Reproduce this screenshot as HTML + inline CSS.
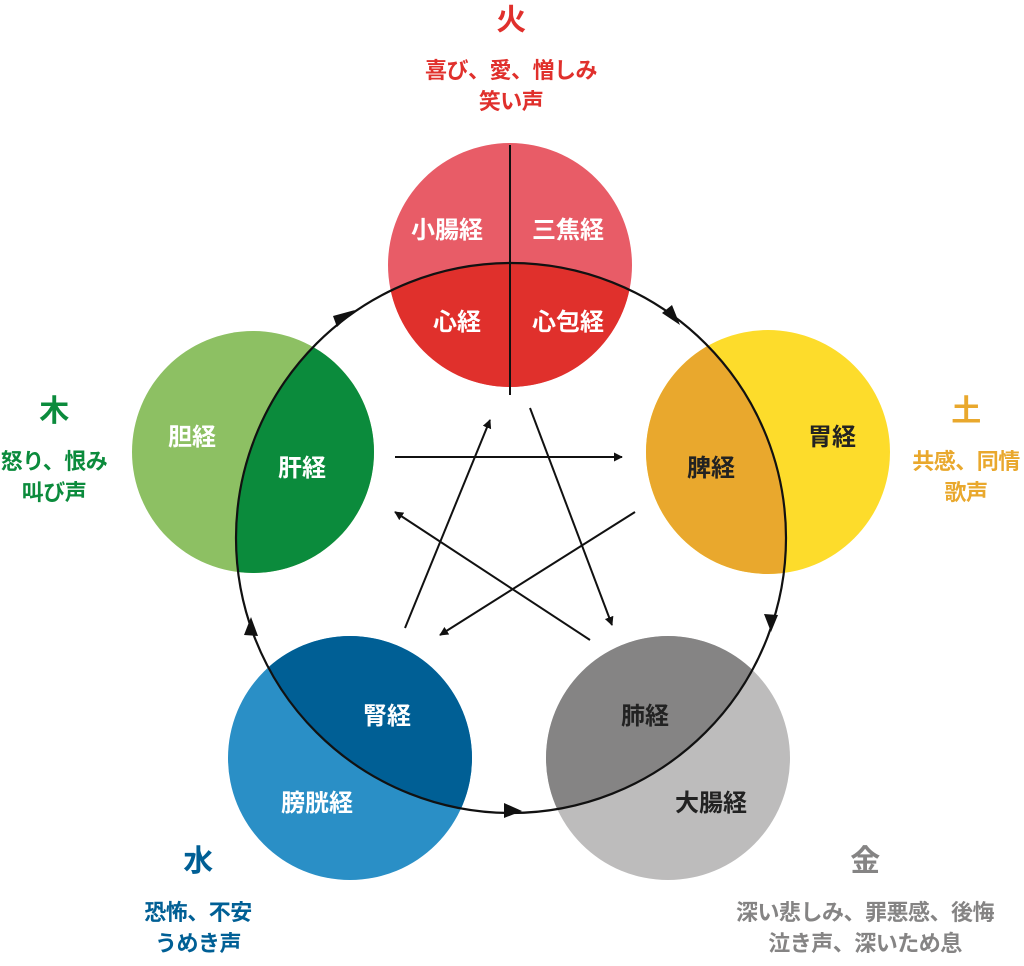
<!DOCTYPE html>
<html><head><meta charset="utf-8"><style>
html,body{margin:0;padding:0;background:#fff}
svg{display:block}
text{font-family:"Liberation Sans","Noto Sans CJK JP",sans-serif;font-weight:bold;text-anchor:middle}
</style></head><body>
<svg width="1024" height="966" viewBox="0 0 1024 966" xmlns="http://www.w3.org/2000/svg">
<defs>
<clipPath id="big"><circle cx="511" cy="538" r="275"/></clipPath>
<marker id="ah" viewBox="0 0 10 10" refX="9" refY="5" markerWidth="9" markerHeight="9" markerUnits="userSpaceOnUse" orient="auto"><path d="M0,0 L10,5 L0,10 z" fill="#111"/></marker>
</defs>
<circle cx="510" cy="265" r="122" fill="#e85c67"/>
<circle cx="510" cy="265" r="122" fill="#e0302c" clip-path="url(#big)"/>
<circle cx="768" cy="452" r="122" fill="#fddc2b"/>
<circle cx="768" cy="452" r="122" fill="#e9a82d" clip-path="url(#big)"/>
<circle cx="253" cy="452" r="121" fill="#8dc063"/>
<circle cx="253" cy="452" r="121" fill="#0b8b3c" clip-path="url(#big)"/>
<circle cx="350" cy="758" r="122" fill="#2a8fc6"/>
<circle cx="350" cy="758" r="122" fill="#005f95" clip-path="url(#big)"/>
<circle cx="668" cy="758" r="122" fill="#bdbcbc"/>
<circle cx="668" cy="758" r="122" fill="#858484" clip-path="url(#big)"/>
<line x1="510" y1="145" x2="510" y2="395" stroke="#111" stroke-width="2"/>
<circle cx="511" cy="538" r="275" fill="none" stroke="#111" stroke-width="2.2"/>
<g fill="#111">
<polygon points="355,310 337,327 333,316" />
<polygon points="680,325 662,313 672,305" />
<polygon points="771,632 764,614 778,615" />
<polygon points="522,811 504,803 504,818" />
<polygon points="251,617 258,636 244,635" />
</g>
<g stroke="#111" stroke-width="2" marker-end="url(#ah)">
<line x1="395" y1="457" x2="622" y2="457"/>
<line x1="635" y1="512" x2="440" y2="635"/>
<line x1="590" y1="640" x2="395" y2="512"/>
<line x1="405" y1="628" x2="490" y2="420"/>
<line x1="530" y1="408" x2="612" y2="625"/>
</g>
<g fill="#fff" font-size="24">
<text x="447" y="238">小腸経</text>
<text x="568" y="238">三焦経</text>
<text x="457" y="330">心経</text>
<text x="568" y="330">心包経</text>
<text x="192" y="445">胆経</text>
<text x="302" y="476">肝経</text>
<text x="387" y="724">腎経</text>
<text x="317" y="811">膀胱経</text>
</g>
<g fill="#222" font-size="24">
<text x="711" y="476">脾経</text>
<text x="832" y="445">胃経</text>
<text x="645" y="724">肺経</text>
<text x="711" y="811">大腸経</text>
</g>
<g font-size="22" letter-spacing="-0.5">
<text x="511" y="30" fill="#e0302c" font-size="30">火</text>
<text x="511" y="78" fill="#e0302c">喜び、愛、憎しみ</text>
<text x="511" y="109" fill="#e0302c">笑い声</text>
<text x="54" y="421" fill="#0b8b3c" font-size="30">木</text>
<text x="54" y="469" fill="#0b8b3c">怒り、恨み</text>
<text x="54" y="500" fill="#0b8b3c">叫び声</text>
<text x="966" y="421" fill="#e9a82d" font-size="30">土</text>
<text x="966" y="469" fill="#e9a82d">共感、同情</text>
<text x="966" y="500" fill="#e9a82d">歌声</text>
<text x="198" y="871" fill="#005f95" font-size="30">水</text>
<text x="198" y="920" fill="#005f95">恐怖、不安</text>
<text x="198" y="951" fill="#005f95">うめき声</text>
<text x="865" y="871" fill="#858484" font-size="30">金</text>
<text x="865" y="920" fill="#858484">深い悲しみ、罪悪感、後悔</text>
<text x="865" y="951" fill="#858484">泣き声、深いため息</text>
</g>
</svg>
</body></html>
